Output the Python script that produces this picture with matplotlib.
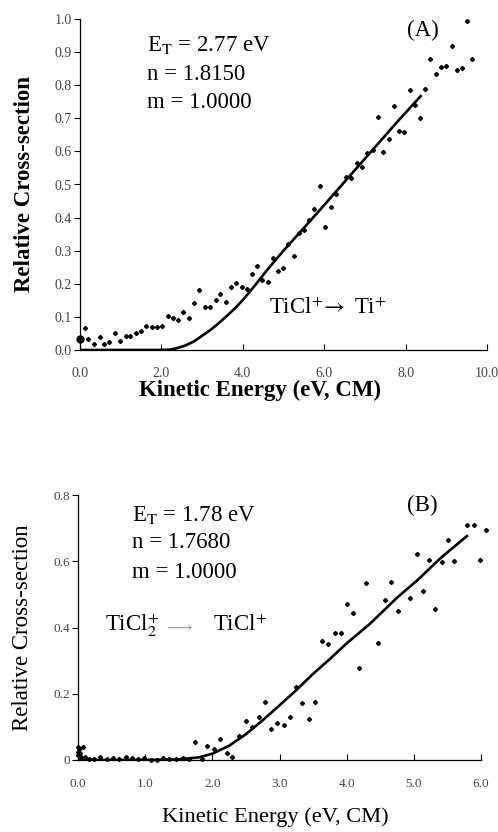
import matplotlib
matplotlib.use("Agg")
import matplotlib.pyplot as plt
from matplotlib.ticker import FormatStrFormatter

plt.rcParams['font.family'] = ['Liberation Serif', 'DejaVu Serif']
plt.rcParams['mathtext.fontset'] = 'stix'

# ---- panel A data: TiCl+ -> Ti+ ----
a_x = [0.12, 0.20, 0.35, 0.48, 0.60, 0.72, 0.85, 0.98, 1.12, 1.24, 1.37, 1.51,
       1.63, 1.77, 1.89, 2.02, 2.15, 2.28, 2.41, 2.54, 2.68, 2.81, 2.93, 3.06,
       3.19, 3.33, 3.45, 3.58, 3.70, 3.83, 3.97, 4.10, 4.23, 4.35, 4.48, 4.61,
       4.74, 4.86, 4.99, 5.12, 5.25, 5.38, 5.50, 5.63, 5.76, 5.90, 6.03, 6.16,
       6.28, 6.54, 6.67, 6.80, 6.93, 7.06, 7.19, 7.32, 7.45, 7.58, 7.71, 7.84,
       7.96, 8.10, 8.22, 8.36, 8.48, 8.61, 8.74, 8.87, 9.00, 9.13, 9.26, 9.38,
       9.52, 9.64]
a_y = [0.065, 0.032, 0.018, 0.039, 0.017, 0.024, 0.051, 0.026, 0.043, 0.041,
       0.050, 0.056, 0.073, 0.069, 0.069, 0.073, 0.103, 0.097, 0.092, 0.116,
       0.098, 0.141, 0.181, 0.129, 0.129, 0.151, 0.168, 0.146, 0.191, 0.203,
       0.189, 0.185, 0.230, 0.255, 0.211, 0.206, 0.278, 0.239, 0.247, 0.321,
       0.285, 0.354, 0.362, 0.393, 0.426, 0.495, 0.372, 0.433, 0.471, 0.524,
       0.519, 0.564, 0.554, 0.594, 0.604, 0.705, 0.597, 0.636, 0.738, 0.663,
       0.658, 0.784, 0.740, 0.700, 0.789, 0.879, 0.834, 0.854, 0.859, 0.918,
       0.846, 0.853, 0.994, 0.878]
a_first_x = [0.0]
a_first_y = [0.032]
a_fit_x = [0.0, 1.0, 2.0, 2.2, 2.4, 2.6, 2.8, 3.0, 3.2, 3.4, 3.6, 3.8, 4.0,
           4.2, 4.6, 5.0, 5.4, 5.8, 6.2, 6.6, 7.0, 7.4, 7.8, 8.37]
a_fit_y = [0.0, 0.0, 0.0, 0.001, 0.006, 0.014, 0.026, 0.043, 0.060, 0.080,
           0.102, 0.125, 0.151, 0.180, 0.242, 0.300, 0.355, 0.410, 0.466,
           0.522, 0.578, 0.634, 0.690, 0.767]

# ---- panel B data: TiCl2+ -> TiCl+ ----
b_x = [0.00, 0.00, 0.00, 0.01, 0.03, 0.05, 0.07, 0.10, 0.17, 0.24, 0.33, 0.43,
       0.52, 0.61, 0.71, 0.80, 0.90, 0.99, 1.08, 1.17, 1.27, 1.36, 1.46, 1.56,
       1.65, 1.74, 1.84, 1.92, 2.02, 2.12, 2.22, 2.30, 2.40, 2.50, 2.59, 2.69,
       2.79, 2.87, 2.96, 3.06, 3.16, 3.24, 3.34, 3.44, 3.53, 3.63, 3.72, 3.82,
       3.91, 4.00, 4.10, 4.19, 4.29, 4.47, 4.57, 4.66, 4.76, 4.95, 5.05, 5.13,
       5.23, 5.32, 5.42, 5.51, 5.60, 5.79, 5.89, 5.98, 6.07]
b_y = [0.038, 0.025, 0.015, 0.032, 0.021, 0.010, 0.040, 0.010, 0.004, 0.004,
       0.010, 0.003, 0.006, 0.003, 0.008, 0.006, 0.004, 0.006, 0.000, 0.000,
       0.006, 0.003, 0.002, 0.007, 0.004, 0.055, 0.003, 0.042, 0.032, 0.063,
       0.020, 0.010, 0.072, 0.118, 0.101, 0.131, 0.174, 0.094, 0.111, 0.106,
       0.131, 0.221, 0.171, 0.123, 0.176, 0.360, 0.350, 0.383, 0.382, 0.471,
       0.444, 0.279, 0.533, 0.354, 0.483, 0.536, 0.451, 0.489, 0.621, 0.511,
       0.605, 0.457, 0.597, 0.663, 0.601, 0.710, 0.709, 0.603, 0.694]
b_fit_x = [0.0, 1.0, 1.5, 1.8, 2.0, 2.25, 2.5, 2.75, 3.0, 3.25, 3.5, 3.75,
           4.0, 4.34, 4.75, 5.06, 5.4, 5.79]
b_fit_y = [0.0, 0.0, 0.002, 0.008, 0.019, 0.043, 0.078, 0.120, 0.165, 0.211,
           0.260, 0.305, 0.352, 0.410, 0.490, 0.544, 0.610, 0.676]

W, H = 498, 832
fig = plt.figure(figsize=(W / 100, H / 100), dpi=100)


def put(x, y, s, **kw):
    # place text by pixel position measured from the top-left corner
    fig.text(x / W, 1 - y / H, s, **kw)


def style_axes(ax, ticksize, xpad):
    for s in ('top', 'right'):
        ax.spines[s].set_visible(False)
    for s in ('left', 'bottom'):
        ax.spines[s].set_linewidth(0.9)
    ax.tick_params(axis='x', direction='in', length=4, width=0.8,
                   pad=xpad, labelsize=ticksize, labelcolor='#444444')
    ax.tick_params(axis='y', direction='out', length=4, width=0.8,
                   pad=2, labelsize=ticksize, labelcolor='#444444')


# ---------- panel A ----------
axA = fig.add_axes([80 / W, 1 - 350 / H, 407 / W, 331 / H])
axA.plot(a_fit_x, a_fit_y, color='black', lw=1.9, zorder=3)
axA.plot(a_x, a_y, 'D', color='black', ms=2.1, zorder=4)
axA.plot(a_first_x, a_first_y, 'o', color='black', ms=5, clip_on=False, zorder=5)
axA.set_xlim(0, 10)
axA.set_ylim(0, 1.0)
axA.set_xticks([0, 2, 4, 6, 8, 10])
axA.set_yticks([i / 10 for i in range(11)])
axA.xaxis.set_major_formatter(FormatStrFormatter('%.1f'))
axA.yaxis.set_major_formatter(FormatStrFormatter('%.1f'))
style_axes(axA, 10, 12)
axA.set_xlabel('Kinetic Energy (eV, CM)', fontsize=16.5, fontweight='bold')
axA.xaxis.set_label_coords((260 - 80) / 407, (350 - 390) / 331)
axA.xaxis.label.set_va('center')
axA.set_ylabel('Relative Cross-section', fontsize=16.5, fontweight='bold')
axA.yaxis.set_label_coords((24 - 80) / 407, 0.5)
axA.yaxis.label.set_va('center')

fs = 16.5
put(147, 45, r'E$_{\mathrm{T}}$ = 2.77 eV', fontsize=fs, va='center')
put(147, 75, 'n = 1.8150', fontsize=fs, va='center')
put(147, 103, 'm = 1.0000', fontsize=fs, va='center')
put(423, 30, '(A)', fontsize=fs, va='center', ha='center')
put(269, 308, r'TiCl$^{+}\!\rightarrow$ Ti$^{+}$', fontsize=fs, va='center')

# ---------- panel B ----------
axB = fig.add_axes([78 / W, 1 - 760 / H, 403 / W, 265 / H])
axB.plot(b_fit_x, b_fit_y, color='black', lw=1.9, zorder=3)
axB.plot(b_x, b_y, 'D', color='black', ms=2.1, clip_on=False, zorder=4)
axB.set_xlim(0, 6)
axB.set_ylim(0, 0.8)
axB.set_xticks([0, 1, 2, 3, 4, 5, 6])
axB.set_yticks([0, 0.2, 0.4, 0.6, 0.8])
axB.xaxis.set_major_formatter(FormatStrFormatter('%.1f'))
axB.set_yticklabels(['0', '0.2', '0.4', '0.6', '0.8'])
style_axes(axB, 9.5, 13)
axB.set_xlabel('Kinetic Energy (eV, CM)', fontsize=16.2)
axB.xaxis.set_label_coords((275 - 78) / 403, (760 - 817) / 265)
axB.xaxis.label.set_va('center')
axB.set_ylabel('Relative Cross-section', fontsize=16.5)
axB.yaxis.set_label_coords((22 - 78) / 403, 0.5)
axB.yaxis.label.set_va('center')

put(132, 515, r'E$_{\mathrm{T}}$ = 1.78 eV', fontsize=fs, va='center')
put(132, 543, 'n = 1.7680', fontsize=fs, va='center')
put(132, 572, 'm = 1.0000', fontsize=fs, va='center')
put(422, 505, '(B)', fontsize=fs, va='center', ha='center')
put(105, 625, r'TiCl$_{2}^{+}$', fontsize=fs, va='center')
put(179, 627, r'$\longrightarrow$', fontsize=12, va='center', ha='center',
    color='#999999')
put(213, 625, r'TiCl$^{+}$', fontsize=fs, va='center')

fig.savefig('out.png', dpi=100)
